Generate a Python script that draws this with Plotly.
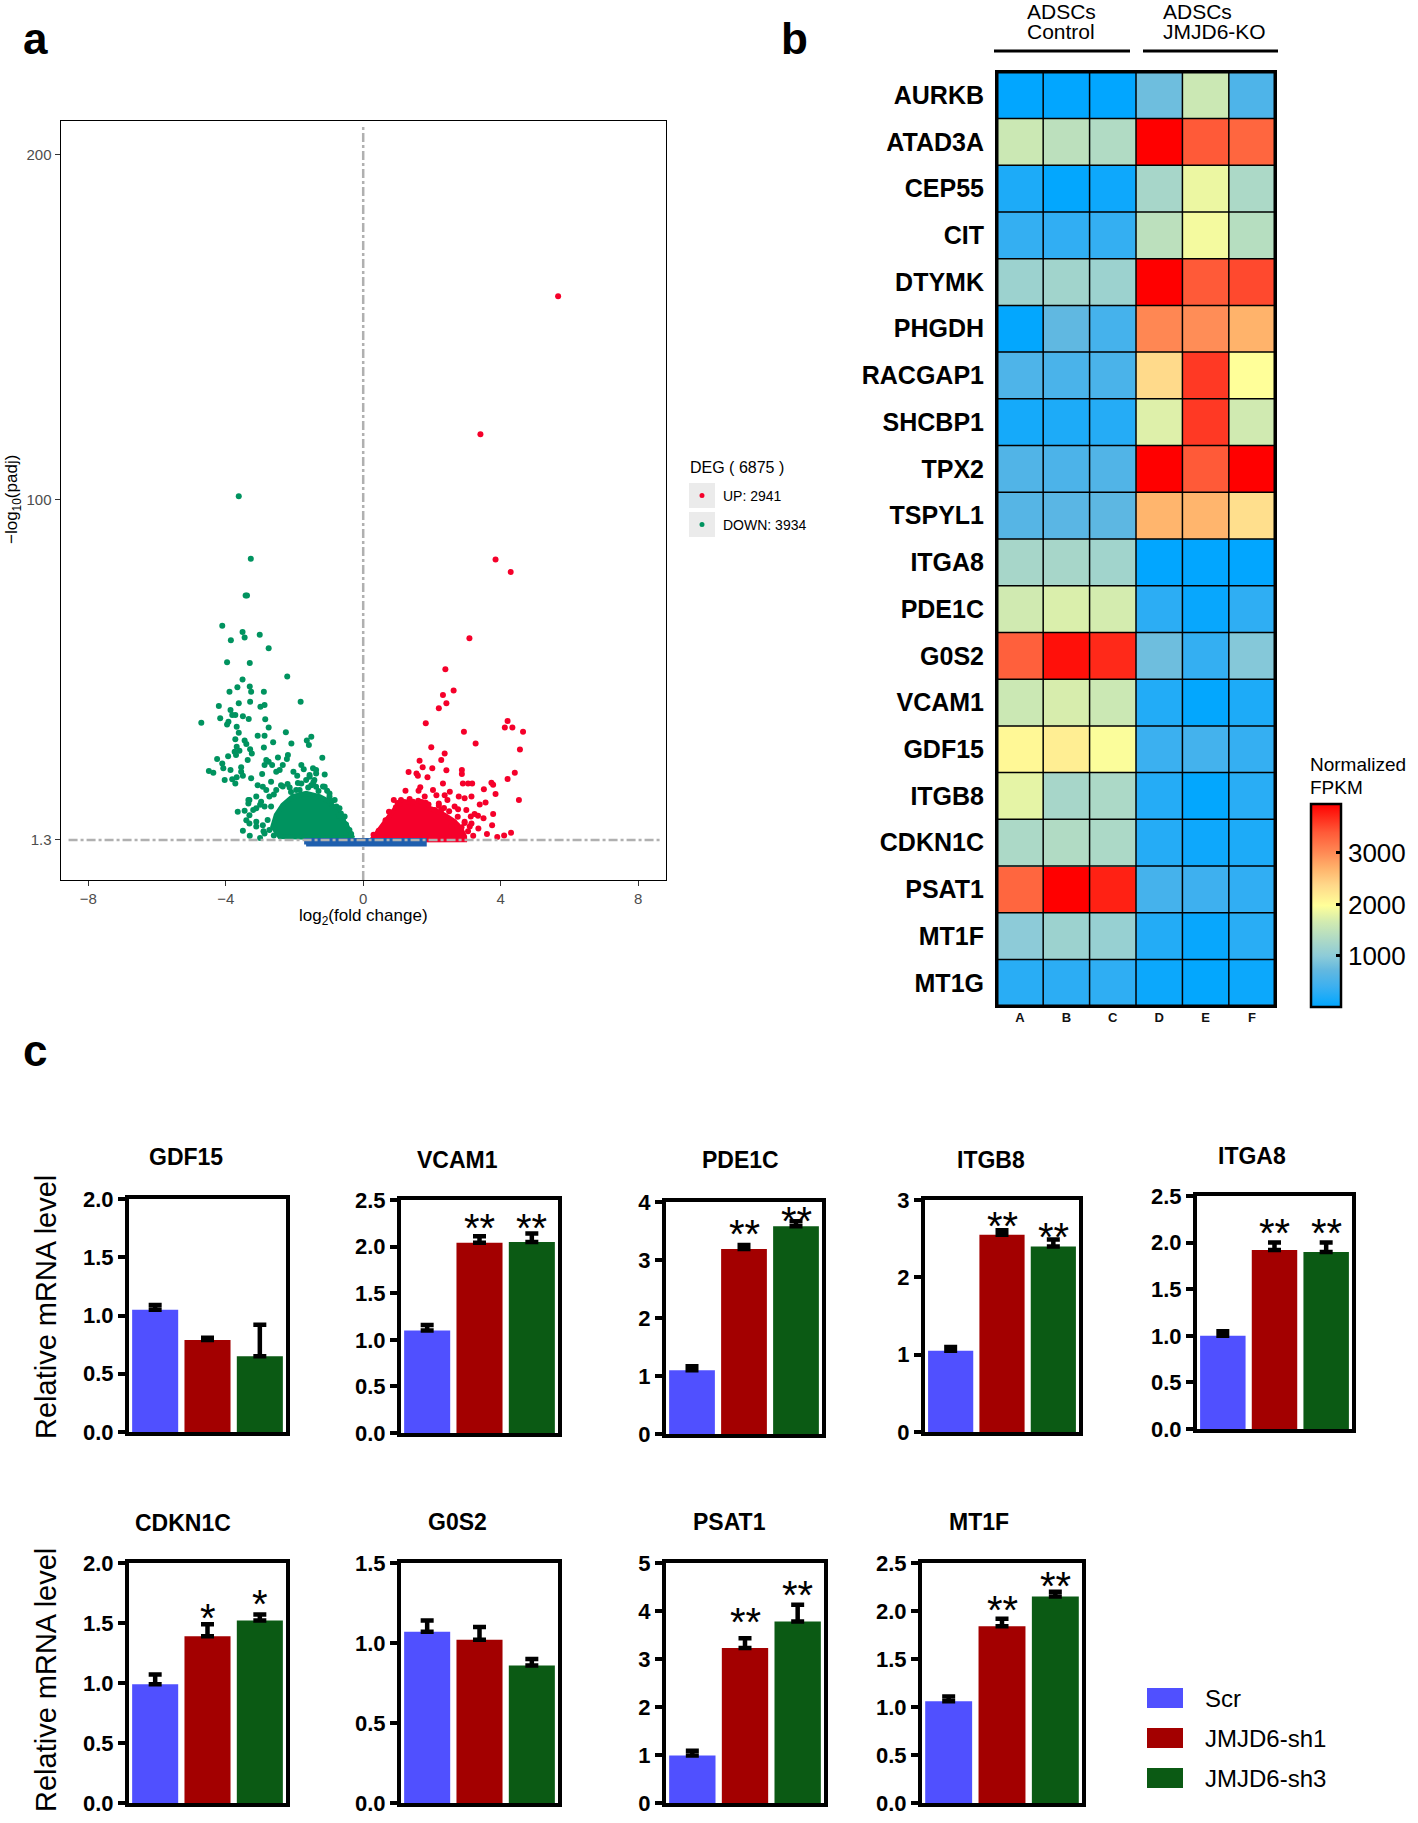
import plotly.graph_objects as go

W, H = 1418, 1823
def px(x): return x / W
def py(y): return 1 - y / H

FONT = "Liberation Sans, Arial, sans-serif"

# ---------------- Panel a: volcano data ----------------
up_x = [5.67, 3.41, 3.85, 4.29, 3.09, 2.39,
        2.63, 2.32, 2.42, 2.20, 1.82, 2.93, 4.20, 4.12, 4.34, 4.65, 3.27, 4.56, 1.98, 2.37, 2.27, 1.64,
        1.73, 2.01, 1.32, 1.55, 1.59, 1.87, 2.42, 2.87, 2.87, 4.41, 4.20, 2.32, 2.90, 3.05, 3.17, 3.73,
        3.78, 1.66, 1.61, 1.23, 2.03, 2.52, 3.51, 3.85, 4.53, 0.89, 1.45, 1.79, 1.82, 2.13, 2.37, 2.20,
        2.45, 2.78, 2.95, 3.15, 3.39, 3.56, 2.08, 2.27, 2.66, 2.76, 3.00, 3.24, 3.13, 3.34, 3.78, 3.50,
        2.95, 3.15, 2.73, 2.86, 2.57,
        0.45, 0.65, 0.75, 0.95, 1.10, 1.35, 1.60, 1.90, 2.20, 2.50, 2.75, 2.95, 3.05, 3.20, 3.35, 3.60,
        3.90, 0.30, 1.00, 1.70, 2.35, 3.10, 4.10, 4.30, 3.75]
up_y = [158.9, 118.9, 82.6, 79.0, 59.8, 50.8,
        44.6, 43.3, 40.9, 39.5, 35.1, 32.7, 35.8, 33.9, 33.9, 32.7, 29.3, 27.5, 28.2, 26.4, 24.5, 24.3,
        22.4, 22.1, 21.0, 20.6, 19.9, 19.5, 21.5, 21.6, 20.4, 20.8, 19.0, 17.7, 17.7, 17.7, 17.7, 17.9,
        17.3, 16.6, 15.6, 15.6, 15.8, 15.3, 16.0, 14.6, 12.9, 12.9, 12.4, 13.9, 12.1, 14.3, 14.3, 11.9,
        12.9, 13.9, 13.4, 13.9, 11.6, 12.2, 10.0, 10.0, 11.0, 10.2, 10.0, 8.8, 8.1, 8.3, 8.8, 7.6,
        6.6, 6.1, 5.6, 5.0, 5.2,
        4.0, 7.0, 9.5, 10.8, 12.9, 13.2, 12.7, 11.6, 11.2, 9.6, 8.0, 6.2, 3.8, 2.5, 4.6, 3.0,
        2.2, 2.8, 12.0, 12.3, 10.6, 5.2, 2.6, 3.4, 5.6]

down_x = [-3.62, -3.27, -3.42, -3.38, -4.10, -3.51, -3.01, -3.85, -3.45, -2.75, -3.96, -3.30, -2.21,
          -3.51, -3.66, -3.30,
          -3.89, -3.26, -2.89, -4.20, -3.62, -3.29, -2.99, -2.87, -1.82, -3.86, -3.72, -3.81, -4.16,
          -3.50, -3.33, -3.92, -3.96, -4.71, -2.85, -3.68, -2.75, -3.62, -3.07, -2.87, -2.25, -1.51,
          -1.64, -1.58, -3.72, -3.45, -2.62, -2.09, -3.68, -3.40, -3.29, -2.89, -3.24, -3.74, -3.60,
          -3.93, -4.25, -4.10, -3.70, -3.36, -2.82, -2.75, -2.48, -2.19, -2.22, -1.19, -2.87, -2.65,
          -2.34, -4.07, -3.86, -3.55, -3.55, -2.94, -2.53, -2.43, -2.03, -1.80, -1.73, -1.92, -1.46,
          -4.49, -4.36, -4.03, -3.81, -3.68, -3.72, -3.50, -3.26, -3.07, -2.92, -2.68, -2.39, -2.14,
          -1.95, -1.66, -1.56, -1.37, -1.12, -1.42, -1.51, -1.12, -3.34, -3.34, -3.11, -2.97, -3.31,
          -3.65, -3.11, -2.87, -3.31, -3.11, -3.11, -2.78, -2.92, -2.73, -2.68, -2.73, -2.87, -2.53,
          -0.98, -0.83, -0.69, -0.54, -1.37, -1.80,
          -3.31, -2.82, -2.34, -1.85, -1.56, -1.37, -1.17, -0.98, -0.78, -0.59, -0.40, -2.60, -2.10,
          -1.60, -1.30, -0.90, -0.65, -0.50, -0.35, -3.00, -3.20, -3.40, -3.50, -3.30, -3.00, -2.60,
          -2.90, -3.45, -2.20, -1.90, -1.45, -1.05, -0.70]
down_y = [100.9, 82.8, 72.2, 72.2, 63.4, 61.6, 60.8, 59.2, 60.0, 56.9, 52.8, 52.6, 48.7,
          47.8, 45.6, 45.8,
          44.3, 44.3, 44.3, 40.1, 40.9, 41.4, 39.9, 40.4, 41.4, 39.0, 37.5, 37.5, 36.6,
          37.2, 36.4, 35.6, 34.8, 35.3, 36.3, 34.1, 33.9, 32.4, 31.5, 31.5, 32.5, 31.2,
          30.1, 28.8, 30.5, 30.1, 29.6, 29.3, 28.3, 29.1, 27.6, 28.1, 26.4, 26.9, 27.2,
          25.6, 24.8, 23.5, 25.9, 24.5, 24.5, 24.0, 25.2, 25.9, 24.8, 25.1, 23.0, 23.0,
          23.0, 22.1, 21.6, 22.4, 21.1, 20.4, 21.1, 21.6, 21.1, 23.0, 21.8, 19.9, 22.1,
          21.3, 20.8, 18.7, 18.9, 19.5, 17.7, 19.9, 19.2, 17.2, 16.7, 18.2, 17.2, 16.5,
          15.8, 18.7, 20.1, 20.6, 20.3, 18.7, 17.2, 16.7, 12.9, 11.9, 13.9, 12.4, 8.5,
          9.5, 10.5, 11.0, 6.1, 6.6, 5.2, 7.1, 5.6, 13.9, 11.0, 4.2, 3.2, 15.8,
          14.8, 12.9, 10.5, 8.1, 16.7, 17.7,
          12.9, 15.8, 16.8, 15.8, 19.6, 21.6, 16.8, 13.9, 11.0, 7.1, 4.2, 14.5, 15.2,
          16.5, 15.5, 12.6, 9.0, 5.8, 3.0, 11.5, 10.0, 7.0, 4.0, 2.5, 1.9, 2.6,
          3.8, 9.8, 17.5, 17.8, 18.0, 15.6, 8.3]

# dense cores (outline)
up_core_x = [0.25, 0.33, 0.53, 0.82, 1.01, 1.21, 1.50, 1.79, 2.08, 2.37, 2.66, 2.86, 2.95, 2.95, 0.25]
up_core_y = [1.3, 2.3, 5.2, 9.0, 11.4, 12.4, 11.9, 11.0, 10.0, 8.5, 6.6, 4.2, 2.3, 1.4, 1.3]
down_core_x = [-0.30, -0.49, -0.74, -0.98, -1.27, -1.66, -2.05, -2.34, -2.53, -2.63, -2.43, -0.30]
down_core_y = [1.8, 5.6, 9.0, 12.4, 13.9, 14.8, 13.9, 11.4, 8.5, 5.2, 2.3, 1.8]
ns_x = [-1.66, 1.79, 1.79, -1.66, -1.66]
ns_y = [0.0, 0.0, 1.3, 1.3, 0.0]

deg_total, deg_up, deg_down = 6875, 2941, 3934
volc_xticks = [-8, -4, 0, 4, 8]
volc_yticks = [1.3, 100, 200]

# ---------------- Panel b: heatmap data ----------------
genes_b = ['AURKB', 'ATAD3A', 'CEP55', 'CIT', 'DTYMK', 'PHGDH', 'RACGAP1', 'SHCBP1', 'TPX2', 'TSPYL1',
           'ITGA8', 'PDE1C', 'G0S2', 'VCAM1', 'GDF15', 'ITGB8', 'CDKN1C', 'PSAT1', 'MT1F', 'MT1G']
samples = ['A', 'B', 'C', 'D', 'E', 'F']
fpkm_A = [20, 1600, 200, 350, 1150, 30, 550, 150, 580, 620, 1250, 1650, 3350, 1600, 2050, 1800, 1300, 3300, 1000, 280]
fpkm_B = [20, 1450, 30, 330, 1200, 700, 520, 200, 540, 650, 1250, 1720, 3850, 1700, 2150, 1250, 1350, 3950, 1150, 300]
fpkm_C = [20, 1350, 100, 350, 1150, 480, 520, 250, 580, 680, 1200, 1680, 3700, 1600, 1950, 1300, 1300, 3750, 1100, 320]
fpkm_D = [800, 3950, 1250, 1450, 3950, 3030, 2350, 1750, 3950, 2680, 20, 300, 800, 230, 400, 250, 250, 480, 240, 90]
fpkm_E = [1600, 3400, 1850, 1900, 3400, 2980, 3600, 3600, 3400, 2680, 20, 60, 350, 30, 470, 30, 100, 420, 60, 30]
fpkm_F = [550, 3300, 1300, 1400, 3500, 2700, 1980, 1650, 3950, 2300, 20, 320, 950, 200, 360, 280, 200, 330, 280, 90]
cbar_ticks = [1000, 2000, 3000]

# ---------------- Panel c: qPCR data ----------------
genes_c = ['GDF15', 'VCAM1', 'PDE1C', 'ITGB8', 'ITGA8', 'CDKN1C', 'G0S2', 'PSAT1', 'MT1F']
groups = ['Scr', 'JMJD6-sh1', 'JMJD6-sh3']
scr_mean = [1.05, 1.10, 1.10, 1.05, 1.00, 0.99, 1.07, 0.99, 1.06]
sh1_mean = [0.79, 2.04, 3.19, 2.55, 1.92, 1.39, 1.02, 3.23, 1.84]
sh3_mean = [0.65, 2.05, 3.58, 2.40, 1.90, 1.52, 0.86, 3.78, 2.15]
scr_err = [0.04, 0.06, 0.07, 0.05, 0.05, 0.08, 0.07, 0.10, 0.05]
sh1_err = [0.02, 0.07, 0.07, 0.06, 0.08, 0.10, 0.08, 0.20, 0.08]
sh3_err = [0.27, 0.09, 0.09, 0.09, 0.10, 0.05, 0.04, 0.35, 0.05]
sh1_sig = ['', '**', '**', '**', '**', '*', '', '**', '**']
sh3_sig = ['', '**', '**', '**', '**', '*', '', '**', '**']
sh1_sig_y = [None, 2.30, 3.60, 2.78, 2.20, 1.62, None, 3.95, 2.10]
sh3_sig_y = [None, 2.30, 3.83, 2.64, 2.20, 1.73, None, 4.52, 2.35]
y_max = [2.0, 2.5, 4, 3, 2.5, 2.0, 1.5, 5, 2.5]
y_step = [0.5, 0.5, 1, 1, 0.5, 0.5, 0.5, 1, 0.5]

# ---------------- styles / layout positions ----------------
RED = '#f5002a'
GREEN = '#00935f'
BLUE = '#1f5fae'
BAR_COLORS = ['#5050ff', '#a30000', '#0b5a14']

fig = go.Figure()

# ===== Panel a =====
fig.add_trace(go.Scatter(x=down_core_x, y=down_core_y, mode='lines', fill='toself', fillcolor=GREEN,
                         line=dict(color=GREEN, width=5), xaxis='x', yaxis='y', hoverinfo='skip', showlegend=False))
fig.add_trace(go.Scatter(x=up_core_x, y=up_core_y, mode='lines', fill='toself', fillcolor=RED,
                         line=dict(color=RED, width=5), xaxis='x', yaxis='y', hoverinfo='skip', showlegend=False))
fig.add_trace(go.Scatter(x=down_x, y=down_y, mode='markers', marker=dict(color=GREEN, size=6),
                         xaxis='x', yaxis='y', showlegend=False))
fig.add_trace(go.Scatter(x=up_x, y=up_y, mode='markers', marker=dict(color=RED, size=6),
                         xaxis='x', yaxis='y', showlegend=False))
fig.add_trace(go.Scatter(x=ns_x, y=ns_y, mode='lines', fill='toself', fillcolor=BLUE,
                         line=dict(color=BLUE, width=4), xaxis='x', yaxis='y', hoverinfo='skip', showlegend=False))

# ===== Panel b =====
z = [list(r) for r in zip(fpkm_A, fpkm_B, fpkm_C, fpkm_D, fpkm_E, fpkm_F)]
colorscale = [[0.00, '#00a6ff'], [0.10, '#3cb0f0'], [0.18, '#62b8e0'], [0.25, '#8ccbd8'],
              [0.33, '#add9c6'], [0.42, '#d2ebb0'], [0.50, '#ffff99'], [0.60, '#ffd88a'],
              [0.68, '#ffb46c'], [0.76, '#ff8a55'], [0.86, '#ff5a38'], [1.00, '#ff0000']]
fig.add_trace(go.Heatmap(z=z, x=samples, y=genes_b, colorscale=colorscale, zmin=10, zmax=3950,
                         xaxis='x2', yaxis='y2',
                         colorbar=dict(x=px(1311), xanchor='left', y=py(905.5), yanchor='middle',
                                       len=203 / H, lenmode='fraction', thickness=30, thicknessmode='pixels',
                                       outlinewidth=2.5, outlinecolor='black', xpad=0, ypad=0,
                                       tickvals=cbar_ticks, ticks='inside', ticklen=6, tickwidth=2.5,
                                       tickcolor='black', tickfont=dict(size=26, family=FONT, color='black'))))

# ===== Panel c =====
bar_px_x = [(125, 290), (397, 562), (662, 826), (921, 1083), (1193, 1356),
            (125, 290), (397, 562), (662, 828), (918, 1086)]
bar_px_y = [(1195, 1436), (1196, 1437), (1198, 1438), (1196, 1436), (1192, 1433),
            (1559, 1807), (1559, 1807), (1559, 1807), (1559, 1807)]
title_px = [(186, 1157), (457, 1160), (740, 1160), (991, 1160), (1252, 1156),
            (183, 1523), (457, 1522), (729, 1522), (979, 1522)]

layout_axes = {}
annotations = []
shapes = []

for i, g in enumerate(genes_c):
    n = i + 3
    xa, ya = f'x{n}', f'y{n}'
    means = [scr_mean[i], sh1_mean[i], sh3_mean[i]]
    errs = [scr_err[i], sh1_err[i], sh3_err[i]]
    fig.add_trace(go.Bar(x=groups, y=means, width=0.88, marker=dict(color=BAR_COLORS, line=dict(width=0)),
                         error_y=dict(type='data', array=errs, arrayminus=[0, 0, 0], symmetric=False,
                                      color='black', thickness=4.5, width=6.5),
                         xaxis=xa, yaxis=ya, showlegend=False))
    for gx, sig, sy in ((groups[1], sh1_sig[i], sh1_sig_y[i]), (groups[2], sh3_sig[i], sh3_sig_y[i])):
        if sig:
            annotations.append(dict(text=sig, x=gx, y=sy, xref=xa, yref=ya, showarrow=False,
                                    xanchor='center', yanchor='middle', yshift=-9,
                                    font=dict(family=FONT, size=40, color='black')))
    (x0, x1), (y0, y1) = bar_px_x[i], bar_px_y[i]
    lw = 4
    fmt = '.1f' if y_step[i] < 1 else 'd'
    layout_axes[f'xaxis{n}'] = dict(domain=[px(x0 + lw), px(x1 - lw)], anchor=ya, range=[-0.5, 2.5],
                                    showline=True, linewidth=lw, linecolor='black', mirror=True,
                                    showticklabels=False, ticks='', showgrid=False, zeroline=False,
                                    type='category', fixedrange=True, automargin=False)
    layout_axes[f'yaxis{n}'] = dict(domain=[py(y1 - lw), py(y0 + lw)], anchor=xa, range=[0, y_max[i]],
                                    dtick=y_step[i], tick0=0, tickformat=fmt,
                                    showline=True, linewidth=lw, linecolor='black', mirror=True,
                                    ticks='outside', ticklen=7, tickwidth=3.5, tickcolor='black',
                                    tickfont=dict(family=FONT, size=22, color='black', weight='bold'),
                                    showgrid=False, zeroline=False, automargin=False)
    tx, ty = title_px[i]
    annotations.append(dict(text=g, x=px(tx), y=py(ty), xref='paper', yref='paper', showarrow=False,
                            xanchor='center', yanchor='middle',
                            font=dict(family=FONT, size=23, color='black', weight='bold')))

for yc in (1307, 1680):
    annotations.append(dict(text='Relative mRNA level', x=px(46), y=py(yc), xref='paper', yref='paper',
                            showarrow=False, textangle=-90, xanchor='center', yanchor='middle',
                            font=dict(family=FONT, size=29, color='black')))

# bar legend
for k, (gname, col) in enumerate(zip(groups, BAR_COLORS)):
    yc = 1698 + 40 * k
    shapes.append(dict(type='rect', xref='paper', yref='paper', x0=px(1147), x1=px(1183),
                       y0=py(yc + 10), y1=py(yc - 10), fillcolor=col, line=dict(width=0)))
    annotations.append(dict(text=gname, x=px(1203), y=py(yc), xref='paper', yref='paper', showarrow=False,
                            xanchor='left', yanchor='middle', font=dict(family=FONT, size=24, color='black')))

# panel letters
for letter, (lx, ly) in zip(['a', 'b', 'c'], [(35, 38), (794, 38), (35, 1050)]):
    annotations.append(dict(text=letter, x=px(lx), y=py(ly), xref='paper', yref='paper', showarrow=False,
                            xanchor='center', yanchor='middle',
                            font=dict(family=FONT, size=44, color='black', weight='bold')))

# volcano axis titles
annotations.append(dict(text='log<sub>2</sub>(fold change)', x=px(363), y=py(917), xref='paper', yref='paper',
                        showarrow=False, xanchor='center', yanchor='middle',
                        font=dict(family=FONT, size=17, color='black')))
annotations.append(dict(text='\u2212log<sub>10</sub>(padj)', x=px(13), y=py(500), xref='paper', yref='paper',
                        showarrow=False, textangle=-90, xanchor='center', yanchor='middle',
                        font=dict(family=FONT, size=17, color='black')))

# volcano legend
annotations.append(dict(text=f'DEG ( {deg_total} )', x=px(688), y=py(468), xref='paper', yref='paper',
                        showarrow=False, xanchor='left', yanchor='middle',
                        font=dict(family=FONT, size=16, color='black')))
for k, (lab, col) in enumerate([(f'UP: {deg_up}', RED), (f'DOWN: {deg_down}', GREEN)]):
    yc = 495.5 + 29 * k
    shapes.append(dict(type='rect', xref='paper', yref='paper', x0=px(689), x1=px(715),
                       y0=py(yc + 12.5), y1=py(yc - 12.5), fillcolor='#ebebeb', line=dict(width=0)))
    shapes.append(dict(type='circle', xref='paper', yref='paper', x0=px(699.5), x1=px(704.5),
                       y0=py(yc + 2.5), y1=py(yc - 2.5), fillcolor=col, line=dict(width=0)))
    annotations.append(dict(text=lab, x=px(721), y=py(yc), xref='paper', yref='paper', showarrow=False,
                            xanchor='left', yanchor='middle', font=dict(family=FONT, size=14, color='black')))

# volcano threshold lines
shapes.append(dict(type='line', xref='x', yref='y domain', x0=0, x1=0, y0=0, y1=0.992,
                   line=dict(color='#b0b0b0', width=2.5, dash='dashdot'), layer='below'))
shapes.append(dict(type='line', xref='x domain', yref='y', x0=0.013, x1=0.99, y0=1.3, y1=1.3,
                   line=dict(color='#b0b0b0', width=2.5, dash='dashdot'), layer='above'))

# heatmap grid
nr, nc = len(genes_b), len(samples)
for i in range(1, nc):
    shapes.append(dict(type='line', xref='x2', yref='y2', x0=i - 0.5, x1=i - 0.5, y0=-0.5, y1=nr - 0.5,
                       line=dict(color='black', width=1.5), layer='above'))
for j in range(1, nr):
    shapes.append(dict(type='line', xref='x2', yref='y2', x0=-0.5, x1=nc - 0.5, y0=j - 0.5, y1=j - 0.5,
                       line=dict(color='black', width=1.5), layer='above'))
shapes.append(dict(type='rect', xref='x2', yref='y2', x0=-0.5, x1=nc - 0.5, y0=-0.5, y1=nr - 0.5,
                   line=dict(color='black', width=3.5), layer='above'))

# heatmap group headers
for (l1, l2, xl), (sx0, sx1) in zip([('ADSCs', 'Control', 1025), ('ADSCs', 'JMJD6-KO', 1161)],
                                    [(994, 1130), (1143, 1278)]):
    annotations.append(dict(text=l1, x=px(xl), y=py(11.5), xref='paper', yref='paper', showarrow=False,
                            xanchor='left', yanchor='middle', font=dict(family=FONT, size=21, color='black')))
    annotations.append(dict(text=l2, x=px(xl), y=py(32), xref='paper', yref='paper', showarrow=False,
                            xanchor='left', yanchor='middle', font=dict(family=FONT, size=21, color='black')))
    shapes.append(dict(type='line', xref='paper', yref='paper', x0=px(sx0), x1=px(sx1), y0=py(51), y1=py(51),
                       line=dict(color='black', width=3)))

# colorbar title
annotations.append(dict(text='Normalized', x=px(1308), y=py(764.5), xref='paper', yref='paper', showarrow=False,
                        xanchor='left', yanchor='middle', font=dict(family=FONT, size=19, color='black')))
annotations.append(dict(text='FPKM', x=px(1308), y=py(787), xref='paper', yref='paper', showarrow=False,
                        xanchor='left', yanchor='middle', font=dict(family=FONT, size=19, color='black')))

fig.update_layout(
    width=W, height=H, autosize=False, margin=dict(l=0, r=0, t=0, b=0, pad=0, autoexpand=False),
    paper_bgcolor='white', plot_bgcolor='white', showlegend=False,
    font=dict(family=FONT, color='black'),
    xaxis=dict(domain=[px(60.7), px(665.7)], anchor='y', range=[-8.8, 8.8], tickvals=volc_xticks,
               showline=True, linewidth=1.3, linecolor='black', mirror=True, ticks='outside', ticklen=5,
               tickcolor='#333333', tickfont=dict(family=FONT, size=15, color='#4d4d4d'),
               showgrid=False, zeroline=False, automargin=False),
    yaxis=dict(domain=[py(880), py(121)], anchor='x', range=[-10.3, 209.7], tickvals=volc_yticks,
               ticktext=['1.3', '100', '200'],
               showline=True, linewidth=1.3, linecolor='black', mirror=True, ticks='outside', ticklen=5,
               tickcolor='#333333', tickfont=dict(family=FONT, size=15, color='#4d4d4d'),
               showgrid=False, zeroline=False, automargin=False),
    xaxis2=dict(domain=[px(995), px(1277)], anchor='y2', showgrid=False, zeroline=False, ticks='',
                tickfont=dict(family=FONT, size=13, color='#111111', weight='bold'), side='bottom',
                automargin=False),
    yaxis2=dict(domain=[py(1008), py(70)], anchor='x2', autorange='reversed', showgrid=False, zeroline=False,
                ticks='', ticklabelstandoff=10, automargin=False,
                tickfont=dict(family=FONT, size=25, color='black', weight='bold')),
    annotations=annotations, shapes=shapes,
    **layout_axes,
)

page_fix = (
    "var gd=document.getElementById('{plot_id}');"
    "var de=document.documentElement, b=document.body;"
    "de.style.margin='0';de.style.padding='0';de.style.overflow='hidden';"
    "b.style.margin='0';b.style.padding='0';b.style.overflow='hidden';b.style.height='1823px';"
    "gd.style.position='fixed';gd.style.top='0px';gd.style.left='0px';"
)
fig.write_html('out.html', config={'displayModeBar': False}, post_script=page_fix)
